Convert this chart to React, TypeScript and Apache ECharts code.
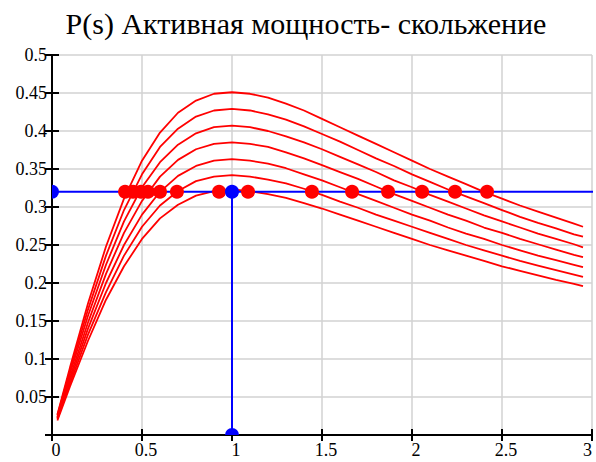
import React, { useEffect, useRef } from "react";
import * as echarts from "echarts";

const titleText = "P(s) Активная мощность- скольжение";

// slip values (x)
const slip = [0.03, 0.1, 0.2, 0.3, 0.4, 0.5, 0.6, 0.7, 0.8, 0.9, 1.0, 1.1, 1.2, 1.3, 1.4, 1.5, 1.6, 1.7, 1.8, 1.9, 2.0, 2.1, 2.2, 2.3, 2.4, 2.5, 2.6, 2.7, 2.8, 2.9, 2.95];

// active power curves
const curve1 = [0.027, 0.089, 0.173, 0.248, 0.311, 0.361, 0.398, 0.424, 0.440, 0.449, 0.451, 0.449, 0.444, 0.436, 0.427, 0.416, 0.405, 0.394, 0.383, 0.372, 0.361, 0.350, 0.340, 0.330, 0.320, 0.311, 0.302, 0.294, 0.286, 0.278, 0.274];
const curve2 = [0.026, 0.085, 0.165, 0.236, 0.296, 0.343, 0.379, 0.403, 0.419, 0.427, 0.429, 0.427, 0.422, 0.415, 0.406, 0.396, 0.386, 0.375, 0.364, 0.354, 0.343, 0.333, 0.323, 0.314, 0.305, 0.296, 0.287, 0.279, 0.272, 0.264, 0.261];
const curve3 = [0.024, 0.081, 0.157, 0.224, 0.281, 0.326, 0.359, 0.382, 0.397, 0.405, 0.407, 0.405, 0.400, 0.393, 0.385, 0.376, 0.366, 0.356, 0.346, 0.335, 0.326, 0.316, 0.307, 0.298, 0.289, 0.281, 0.273, 0.265, 0.258, 0.251, 0.247];
const curve4 = [0.023, 0.076, 0.148, 0.212, 0.266, 0.308, 0.340, 0.362, 0.376, 0.383, 0.385, 0.383, 0.379, 0.372, 0.364, 0.355, 0.346, 0.337, 0.327, 0.317, 0.308, 0.299, 0.290, 0.282, 0.273, 0.266, 0.258, 0.251, 0.244, 0.237, 0.234];
const curve5 = [0.022, 0.072, 0.140, 0.200, 0.250, 0.290, 0.320, 0.341, 0.354, 0.361, 0.363, 0.361, 0.357, 0.351, 0.343, 0.335, 0.326, 0.317, 0.308, 0.299, 0.290, 0.282, 0.273, 0.265, 0.258, 0.250, 0.243, 0.236, 0.230, 0.224, 0.221];
const curve6 = [0.021, 0.068, 0.132, 0.188, 0.236, 0.274, 0.302, 0.321, 0.334, 0.340, 0.342, 0.340, 0.336, 0.331, 0.324, 0.316, 0.307, 0.299, 0.290, 0.282, 0.274, 0.266, 0.258, 0.250, 0.243, 0.236, 0.229, 0.223, 0.217, 0.211, 0.208];
const curve7 = [0.019, 0.064, 0.124, 0.178, 0.222, 0.258, 0.285, 0.303, 0.315, 0.321, 0.323, 0.321, 0.317, 0.312, 0.305, 0.298, 0.290, 0.282, 0.274, 0.266, 0.258, 0.250, 0.243, 0.236, 0.229, 0.222, 0.216, 0.210, 0.204, 0.199, 0.196];
const curves = [curve1, curve2, curve3, curve4, curve5, curve6, curve7];

// working level and intersection points
const level = 0.32;
const nominalSlip = 1;
const crossSlip = [0.406, 0.45, 0.494, 0.533, 0.6, 0.694, 0.928, 1.089, 1.444, 1.667, 1.867, 2.056, 2.239, 2.417];
const bluePoints = [[0, 0.32], [1, 0.32], [1, 0]];

const FONT = "Liberation Serif, Times New Roman, DejaVu Serif, serif";

function fmt(v: number) {
  return String(parseFloat(v.toFixed(2)));
}

const RIGHT_HALF = "path://M0,0 A10,10 0 0 1 0,20 Z";
const TOP_HALF = "path://M0,10 A10,10 0 0 1 20,10 Z";

export default function App() {
  const ref = useRef<HTMLDivElement>(null);
  useEffect(() => {
    if (!ref.current) return;
    const chart = echarts.init(ref.current, null, { renderer: "svg" });
    const tickStyle = { color: "#000", width: 2 };
    const labelStyle = { fontFamily: FONT, fontSize: 18, color: "#000" };
    const lineSeries = curves.map((c, i) => ({
      name: "P" + (i + 1),
      type: "line",
      data: slip.map((s, j) => [s, c[j]]),
      showSymbol: false,
      symbol: "none",
      smooth: false,
      lineStyle: { color: "#ff0000", width: 1.8 },
      z: 2,
    }));
    const blueData = bluePoints.map(([x, y]) => {
      if (x === 0) {
        return { value: [x, y], symbol: RIGHT_HALF, symbolSize: [7, 14], symbolOffset: [3.5, 0] };
      }
      if (y === 0) {
        return { value: [x, y], symbol: TOP_HALF, symbolSize: [14, 7], symbolOffset: [0, -3.5] };
      }
      return { value: [x, y] };
    });
    chart.setOption({
      animation: false,
      backgroundColor: "#ffffff",
      textStyle: { fontFamily: FONT, color: "#000" },
      graphic: [
        {
          type: "text",
          x: 306,
          y: 8,
          style: {
            text: titleText,
            fontFamily: FONT,
            fontSize: 30,
            fill: "#000",
            textAlign: "center",
            textVerticalAlign: "top",
          },
        },
      ],
      grid: {
        left: 52,
        right: 4,
        top: 55,
        bottom: 27,
        containLabel: false,
        outerBoundsMode: "none",
      },
      xAxis: [
        {
          type: "value",
          min: 0,
          max: 3,
          interval: 0.5,
          position: "bottom",
          axisLine: { show: true, onZero: false, lineStyle: tickStyle },
          axisTick: { show: true, length: 6, lineStyle: tickStyle },
          axisLabel: {
            ...labelStyle,
            margin: 6,
            padding: [0, 0, 0, 8],
            alignMaxLabel: "right",
            formatter: (v: number) => fmt(v),
          },
          splitLine: { show: true, lineStyle: { color: "#d2d2d2", width: 1.5 } },
        },
        {
          type: "value",
          min: 0,
          max: 3,
          interval: 0.5,
          position: "bottom",
          axisLine: { show: false, onZero: false },
          axisTick: { show: true, inside: true, length: 6, lineStyle: tickStyle },
          axisLabel: { show: false },
          splitLine: { show: false },
        },
      ],
      yAxis: [
        {
          type: "value",
          min: 0,
          max: 0.5,
          interval: 0.05,
          position: "left",
          axisLine: { show: true, onZero: false, lineStyle: tickStyle },
          axisTick: { show: true, length: 7, lineStyle: tickStyle },
          axisLabel: {
            ...labelStyle,
            margin: 5,
            padding: [7, 0, 0, 0],
            formatter: (v: number) => (v === 0 ? "" : fmt(v)),
          },
          splitLine: { show: true, lineStyle: { color: "#d2d2d2", width: 1.5 } },
        },
        {
          type: "value",
          min: 0,
          max: 0.5,
          interval: 0.05,
          position: "left",
          axisLine: { show: false, onZero: false },
          axisTick: { show: true, inside: true, length: 7, lineStyle: tickStyle },
          axisLabel: { show: false },
          splitLine: { show: false },
        },
      ],
      series: [
        ...lineSeries,
        {
          name: "level",
          type: "line",
          data: [[0, level], [3.03, level]],
          showSymbol: false,
          symbol: "none",
          clip: false,
          lineStyle: { color: "#0000ff", width: 2 },
          z: 3,
        },
        {
          name: "nominal",
          type: "line",
          data: [[nominalSlip, 0], [nominalSlip, level]],
          showSymbol: false,
          symbol: "none",
          lineStyle: { color: "#0000ff", width: 2 },
          z: 3,
        },
        {
          name: "cross",
          type: "scatter",
          data: crossSlip.map((s) => [s, level]),
          symbol: "circle",
          symbolSize: 14,
          itemStyle: { color: "#ff0000", opacity: 1 },
          z: 4,
        },
        {
          name: "work",
          type: "scatter",
          data: blueData,
          symbol: "circle",
          symbolSize: 14,
          itemStyle: { color: "#0000ff", opacity: 1 },
          z: 5,
        },
      ],
    });
    return () => chart.dispose();
  }, []);
  return (
    <div
      ref={ref}
      style={{ position: "fixed", left: 0, top: 0, width: 596, height: 462, background: "#fff" }}
    />
  );
}
